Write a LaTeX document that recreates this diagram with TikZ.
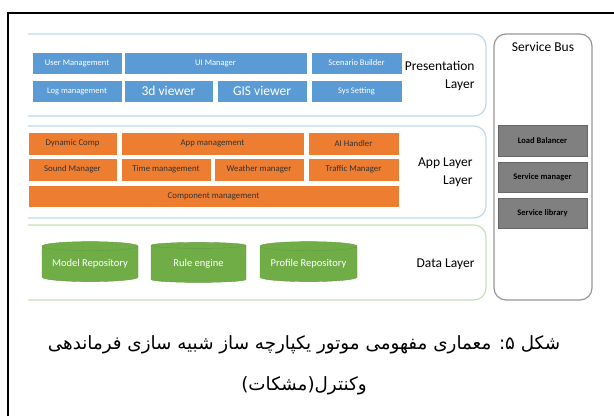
\documentclass[tikz,border=0pt]{standalone}
\usepackage{fontspec}
\setmainfont{Carlito}
\newfontfamily\arabicfont[Script=Arabic]{DejaVu Sans}
\TeXXeTstate=1
\usetikzlibrary{positioning, shapes.geometric}
\definecolor{myblue}{RGB}{91, 155, 213}
\definecolor{myorange}{RGB}{237, 125, 49}
\definecolor{mygreen}{RGB}{112, 173, 71}
\definecolor{mygray}{RGB}{128, 128, 128}
\definecolor{layerblue}{RGB}{189, 215, 238}
\definecolor{layergreen}{RGB}{197, 224, 180}
\definecolor{busgray}{RGB}{150, 150, 150}

\begin{document}
\begin{tikzpicture}[x=1pt, y=-1pt,
    bluebox/.style={rectangle, draw=white, fill=myblue, text=white, font=\fontsize{8.5}{9}\selectfont, minimum height=22pt, inner sep=0pt},
    orangebox/.style={rectangle, draw=white, fill=myorange, text=black!80, font=\fontsize{8.8}{9}\selectfont, minimum height=23pt, inner sep=0pt},
    graybox/.style={rectangle, draw=black!60, fill=mygray, text=black, font=\bfseries\fontsize{8.5}{9}\selectfont, minimum width=89pt, minimum height=30pt, inner sep=0pt},
    dbcyl/.style={cylinder, shape border rotate=90, aspect=0.12, draw=mygreen!90!black, fill=mygreen, text=white, font=\fontsize{10.5}{11}\selectfont, minimum height=40pt, inner sep=0pt},
    layerlabel/.style={anchor=east, align=right, font=\fontsize{13.5}{18}\selectfont}]
    \useasboundingbox (0,0) rectangle (614,416);
    % frame
    \draw[line width=1.4pt] (8,416) -- (8,13) -- (614,13);

    % layers
    \draw[layerblue, line width=1.2pt, rounded corners=12pt] (28,34) -- (486,34) -- (486,116) -- (28,116);
    \draw[layerblue, line width=1.2pt, rounded corners=12pt] (28,126) -- (486,126) -- (486,218) -- (28,218);
    \draw[layergreen, line width=1.2pt, rounded corners=12pt] (28,225) -- (486,225) -- (486,300) -- (28,300);
    \node[rectangle, draw=busgray, line width=1.2pt, rounded corners=12pt, minimum width=98pt, minimum height=266pt] (bus) at (543,167) {};
    \node[font=\fontsize{13.5}{14}\selectfont] (busname) at (543,47) {Service Bus};

    % Presentation
    \node[bluebox, minimum width=90pt] (usrmgmt) at (77,63) {User Management};
    \node[bluebox, minimum width=183pt] (uimgr) at (215.5,63) {UI Manager};
    \node[bluebox, minimum width=91pt] (scenario) at (356.5,63) {Scenario Builder};
    \node[bluebox, minimum width=90pt] (logmgmt) at (77,91) {Log management};
    \node[bluebox, minimum width=89pt, font=\fontsize{13.5}{14}\selectfont] (viewer) at (168.5,91) {3d viewer};
    \node[bluebox, minimum width=90pt, font=\fontsize{13.5}{14}\selectfont] (gis) at (262,91) {GIS viewer};
    \node[bluebox, minimum width=91pt] (sysset) at (356.5,91) {Sys Setting};
    \node[layerlabel] (presname) at (478,76) {Presentation\\Layer};

    % App layer
    \node[orangebox, minimum width=89pt] (dyncomp) at (72.5,143.5) {Dynamic Comp};
    \node[orangebox, minimum width=183pt] (appmgmt) at (212.5,143.5) {App management};
    \node[orangebox, minimum width=91pt] (aihand) at (353.5,143.5) {AI Handler};
    \node[orangebox, minimum width=89pt] (sound) at (72.5,169.5) {Sound Manager};
    \node[orangebox, minimum width=90pt] (timemgmt) at (166,169.5) {Time management};
    \node[orangebox, minimum width=90pt] (weather) at (259,169.5) {Weather manager};
    \node[orangebox, minimum width=91pt] (traffic) at (353.5,169.5) {Traffic Manager};
    \node[orangebox, minimum width=371pt, minimum height=22pt] (compmgmt) at (213.5,196) {Component management};
    \node[layerlabel] (appname) at (476,172) {App Layer\\Layer};

    % Data layer
    \node[dbcyl, minimum width=96pt] (modelrep) at (90,264) {Model Repository};
    \node[dbcyl, minimum width=95pt] (rule) at (198.5,264) {Rule engine};
    \node[dbcyl, minimum width=97pt] (profile) at (308.5,264) {Profile Repository};
    \node[layerlabel] (dataname) at (478,264) {Data Layer};

    % Service bus
    \node[graybox, minimum height=31pt] (loadbal) at (542.5,140.5) {Load Balancer};
    \node[graybox] (servmgr) at (542.5,177) {Service manager};
    \node[graybox] (servlib) at (542.5,213) {Service library};

    % caption
    \node[align=center, font=\arabicfont\fontsize{18.3}{41}\selectfont] (caption) at (304,365)
        {\beginR شکل ۵: معماری مفهومی موتور یکپارچه ساز شبیه سازی فرماندهی\endR\\
         \beginR وکنترل(مشکات)\endR};
\end{tikzpicture}
\end{document}
